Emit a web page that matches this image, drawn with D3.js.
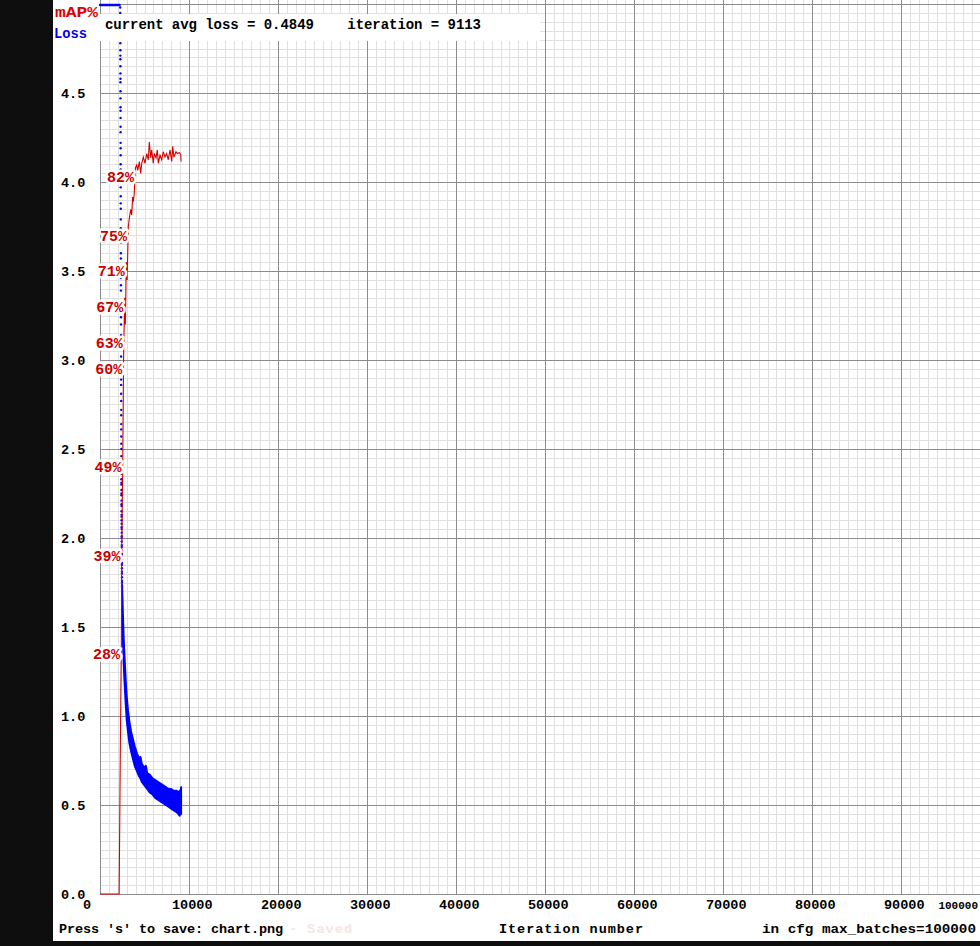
<!DOCTYPE html>
<html>
<head>
<meta charset="utf-8">
<script src="https://cdn.jsdelivr.net/npm/d3@7"></script>
<style>
  html, body { margin: 0; padding: 0; background: #0e0e0e; }
  svg { display: block; }
  text { font-family: "Liberation Mono", "DejaVu Sans Mono", monospace; font-weight: bold; white-space: pre; }
</style>
</head>
<body>
<svg id="chart" width="980" height="946"></svg>
<script>
// axis ticks
const xTicks = [0, 10000, 20000, 30000, 40000, 50000, 60000, 70000, 80000, 90000, 100000];
const xTickLabels = ["0", "10000", "20000", "30000", "40000", "50000", "60000", "70000", "80000", "90000", "100000"];
const yTicks = [0, 0.5, 1, 1.5, 2, 2.5, 3, 3.5, 4, 4.5, 5];
const yTickLabels = ["0.0", "0.5", "1.0", "1.5", "2.0", "2.5", "3.0", "3.5", "4.0", "4.5", ""];

// loss while it is still above the chart top (clipped at 5.0)
const earlyIter = [0, 100, 200, 300, 400, 500, 600, 700, 800, 900, 1000, 1100, 1200, 1300, 1400, 1500, 1600, 1700, 1800, 1900, 2000, 2100, 2200];
const earlyLoss = [3120, 2875, 2410, 1980, 1650, 1320, 1040, 812, 640, 505, 398, 310, 244, 190, 148, 116, 90, 70, 52, 38, 26, 15, 8.2];

// the fast drop, one value every 2 iterations
const dropStart = 2270;
const dropStep = 2;
const dropLoss = [4.98, 4.95, 4.93, 4.90, 4.88, 4.85, 4.84, 4.80, 4.78, 4.74, 4.71, 4.69, 4.65, 4.61, 4.58, 4.56,
  4.51, 4.47, 4.42, 4.40, 4.36, 4.31, 4.28, 4.22, 4.19, 4.15, 4.10, 4.07, 4.01, 3.97, 3.92, 3.88, 3.85, 3.79,
  3.74, 3.71, 3.66, 3.60, 3.57, 3.52, 3.46, 3.42, 3.39, 3.33, 3.29, 3.24, 3.20, 3.14, 3.11, 3.07, 3.02, 2.98,
  2.93, 2.89, 2.86, 2.81, 2.77, 2.72, 2.69, 2.64, 2.61, 2.57, 2.53, 2.50, 2.46, 2.43, 2.41, 2.38, 2.36, 2.33,
  2.31, 2.30, 2.27, 2.25, 2.24, 2.21, 2.19, 2.18, 2.15, 2.13, 2.12, 2.10, 2.08, 2.06, 2.05, 2.03, 2.01, 2.00,
  1.98, 1.96, 1.95, 1.93, 1.91, 1.90, 1.88, 1.86, 1.85, 1.83, 1.81, 1.80, 1.78, 1.76, 1.75, 1.73, 1.72];

// noisy loss after the drop: upper and lower edge of the cloud
const bandIter = [2470, 2520, 2580, 2650, 2720, 2800, 2900, 3000, 3150, 3300, 3500, 3700, 3900, 4150, 4400, 4550, 4700,
  5000, 5150, 5300, 5600, 5900, 6200, 6500, 6800, 7100, 7400, 7700, 8000, 8300, 8600, 8800, 8950, 9050, 9113];
const bandHigh = [1.74, 1.67, 1.56, 1.45, 1.37, 1.29, 1.19, 1.11, 1.03, 0.97, 0.91, 0.87, 0.83, 0.79, 0.76, 0.77, 0.73,
  0.71, 0.72, 0.68, 0.67, 0.65, 0.64, 0.63, 0.62, 0.61, 0.60, 0.59, 0.59, 0.58, 0.58, 0.57, 0.58, 0.57, 0.60];
const bandLow = [1.62, 1.53, 1.41, 1.31, 1.23, 1.15, 1.06, 0.98, 0.91, 0.85, 0.80, 0.76, 0.72, 0.69, 0.66, 0.65, 0.63,
  0.61, 0.60, 0.59, 0.57, 0.56, 0.54, 0.53, 0.52, 0.51, 0.50, 0.49, 0.48, 0.47, 0.46, 0.45, 0.44, 0.46, 0.45];

// mAP (%) at each evaluation
const mapIter = [0, 2150, 2300, 2400, 2450, 2560, 2650, 2700, 2780, 2850, 2950, 3050, 3180, 3290, 3450, 3560, 3670,
  3740, 3850, 3980, 4120, 4240, 4420, 4570, 4690, 4870, 5060, 5250, 5430, 5540, 5700, 5810, 5990, 6100, 6290, 6440,
  6550, 6740, 6930, 7110, 7300, 7490, 7670, 7870, 8060, 8170, 8310, 8540, 8690, 8910, 9070, 9110];
const mapVal = [0, 0, 18, 28, 39, 49, 60, 63, 67, 64, 71, 69, 75, 75.9, 76.9, 76.3, 78.3, 77.8, 78.7, 81.6, 81.9,
  81.3, 82.3, 81.0, 82.1, 82.8, 82.1, 83.2, 82.5, 84.5, 82.7, 83.6, 82.1, 83.2, 82.7, 83.6, 82.1, 83.0, 82.5, 83.4,
  82.8, 83.2, 82.5, 83.6, 82.3, 84.0, 82.8, 83.4, 83.2, 83.3, 83.1, 82.3];
// evaluations that got a percent label
const mapLabelIter = [2400, 2450, 2560, 2650, 2700, 2780, 2950, 3180, 3980];

const avgLoss = "0.4849";
const curIter = 9113;
const maxBatches = 100000;

const svg = d3.select("#chart");
const x = d3.scaleLinear().domain([0, maxBatches]).range([100, 990]);
const y = d3.scaleLinear().domain([0, 5]).range([894, 4]);
const yMap = v => y(v / 100 * 5);

svg.append("rect").attr("x", 53).attr("y", 0).attr("width", 927).attr("height", 941).attr("fill", "#fff");

// grid
const grid = svg.append("g").attr("shape-rendering", "crispEdges");
grid.selectAll(".vmin").data(x.ticks(100)).join("line")
  .attr("x1", d => Math.round(x(d)) + 0.5).attr("x2", d => Math.round(x(d)) + 0.5)
  .attr("y1", 0).attr("y2", 894).attr("stroke", "#e0e0e0");
grid.selectAll(".hmin").data(y.ticks(100)).join("line")
  .attr("y1", d => Math.round(y(d)) + 0.5).attr("y2", d => Math.round(y(d)) + 0.5)
  .attr("x1", 100).attr("x2", 990).attr("stroke", "#e0e0e0");
grid.selectAll(".vmaj").data(xTicks).join("line").attr("class", "vmaj")
  .attr("x1", d => Math.round(x(d)) + 0.5).attr("x2", d => Math.round(x(d)) + 0.5)
  .attr("y1", 0).attr("y2", 894).attr("stroke", "#8c8c8c");
grid.selectAll(".hmaj").data(yTicks).join("line").attr("class", "hmaj")
  .attr("y1", d => Math.round(y(d)) + 0.5).attr("y2", d => Math.round(y(d)) + 0.5)
  .attr("x1", 100).attr("x2", 990).attr("stroke", "#8c8c8c");

// loss
const lossG = svg.append("g");
lossG.selectAll(".early").data(earlyIter).join("circle")
  .attr("cx", d => x(d)).attr("cy", (d, i) => y(Math.min(earlyLoss[i], 5)) + 1)
  .attr("r", 1.2).attr("fill", "#0000ff");
lossG.selectAll(".drop").data(dropLoss).join("circle")
  .attr("cx", (d, i) => x(dropStart + i * dropStep)).attr("cy", d => y(Math.min(d, 5)))
  .attr("r", 1.2).attr("fill", "#0000ff");
const band = d3.area()
  .x((d, i) => x(d)).y0((d, i) => y(bandLow[i])).y1((d, i) => y(bandHigh[i]));
lossG.append("path").datum(bandIter).attr("d", band)
  .attr("fill", "#0000ff").attr("stroke", "#0000ff").attr("stroke-width", 2).attr("stroke-linejoin", "round");

// mAP line
const mapLine = d3.line().x((d, i) => x(d)).y((d, i) => yMap(mapVal[i]));
svg.append("path").datum(mapIter).attr("d", mapLine)
  .attr("fill", "none").attr("stroke", "#d40000").attr("stroke-width", 1.1);

// title box
svg.append("rect").attr("x", 100).attr("y", 14).attr("width", 440).attr("height", 27).attr("fill", "#fff");
svg.append("text").attr("x", 105).attr("y", 28.5).attr("font-size", 14).attr("textLength", 376)
  .attr("fill", "#000").text("current avg loss = " + avgLoss + "    iteration = " + curIter);

// percent labels
svg.append("g").selectAll("text").data(mapLabelIter).join("text")
  .attr("x", d => x(d) - 28.4)
  .attr("y", d => yMap(mapVal[mapIter.indexOf(d)]) + 14.2)
  .attr("font-size", 15)
  .attr("fill", "#c80000").attr("stroke", "#fff").attr("stroke-width", 5).attr("stroke-linejoin", "round")
  .attr("paint-order", "stroke")
  .text(d => Math.round(mapVal[mapIter.indexOf(d)]) + "%");

// legend
svg.append("text").attr("x", 55).attr("y", 17).attr("font-size", 14).attr("textLength", 43)
  .attr("lengthAdjust", "spacingAndGlyphs").attr("fill", "#e00000").text("mAP%");
svg.append("text").attr("x", 54).attr("y", 38).attr("font-size", 14).attr("textLength", 33)
  .attr("lengthAdjust", "spacingAndGlyphs").attr("fill", "#0000ee").text("Loss");

// tick labels; the last x label sits at the right edge, squeezed to fit
svg.append("g").selectAll("text").data(yTicks).join("text")
  .attr("x", 61).attr("y", d => y(d) + 4.5).attr("font-size", 13.5).attr("fill", "#000")
  .text((d, i) => yTickLabels[i]);
const xLab = svg.append("g").selectAll("text").data(xTicks).join("text")
  .attr("y", 909).attr("fill", "#000")
  .text((d, i) => xTickLabels[i]);
xLab.filter(d => x(d) < 960).attr("x", d => x(d) - 17).attr("font-size", 13.5);
xLab.filter(d => x(d) >= 960).attr("x", 978).attr("text-anchor", "end").attr("font-size", 11);

// bottom line
svg.append("text").attr("x", 59).attr("y", 932.5).attr("font-size", 13.5).attr("textLength", 224)
  .attr("fill", "#000").text("Press 's' to save: chart.png");
svg.append("text").attr("x", 289).attr("y", 932.5).attr("font-size", 13.5).attr("textLength", 63)
  .attr("fill", "#f7e4e4").text("- Saved");
svg.append("text").attr("x", 499).attr("y", 932.5).attr("font-size", 13.5).attr("textLength", 144)
  .attr("fill", "#000").text("Iteration number");
svg.append("text").attr("x", 762).attr("y", 932.5).attr("font-size", 13.5).attr("textLength", 214)
  .attr("lengthAdjust", "spacingAndGlyphs")
  .attr("fill", "#000").text("in cfg max_batches=" + maxBatches);
</script>
</body>
</html>
